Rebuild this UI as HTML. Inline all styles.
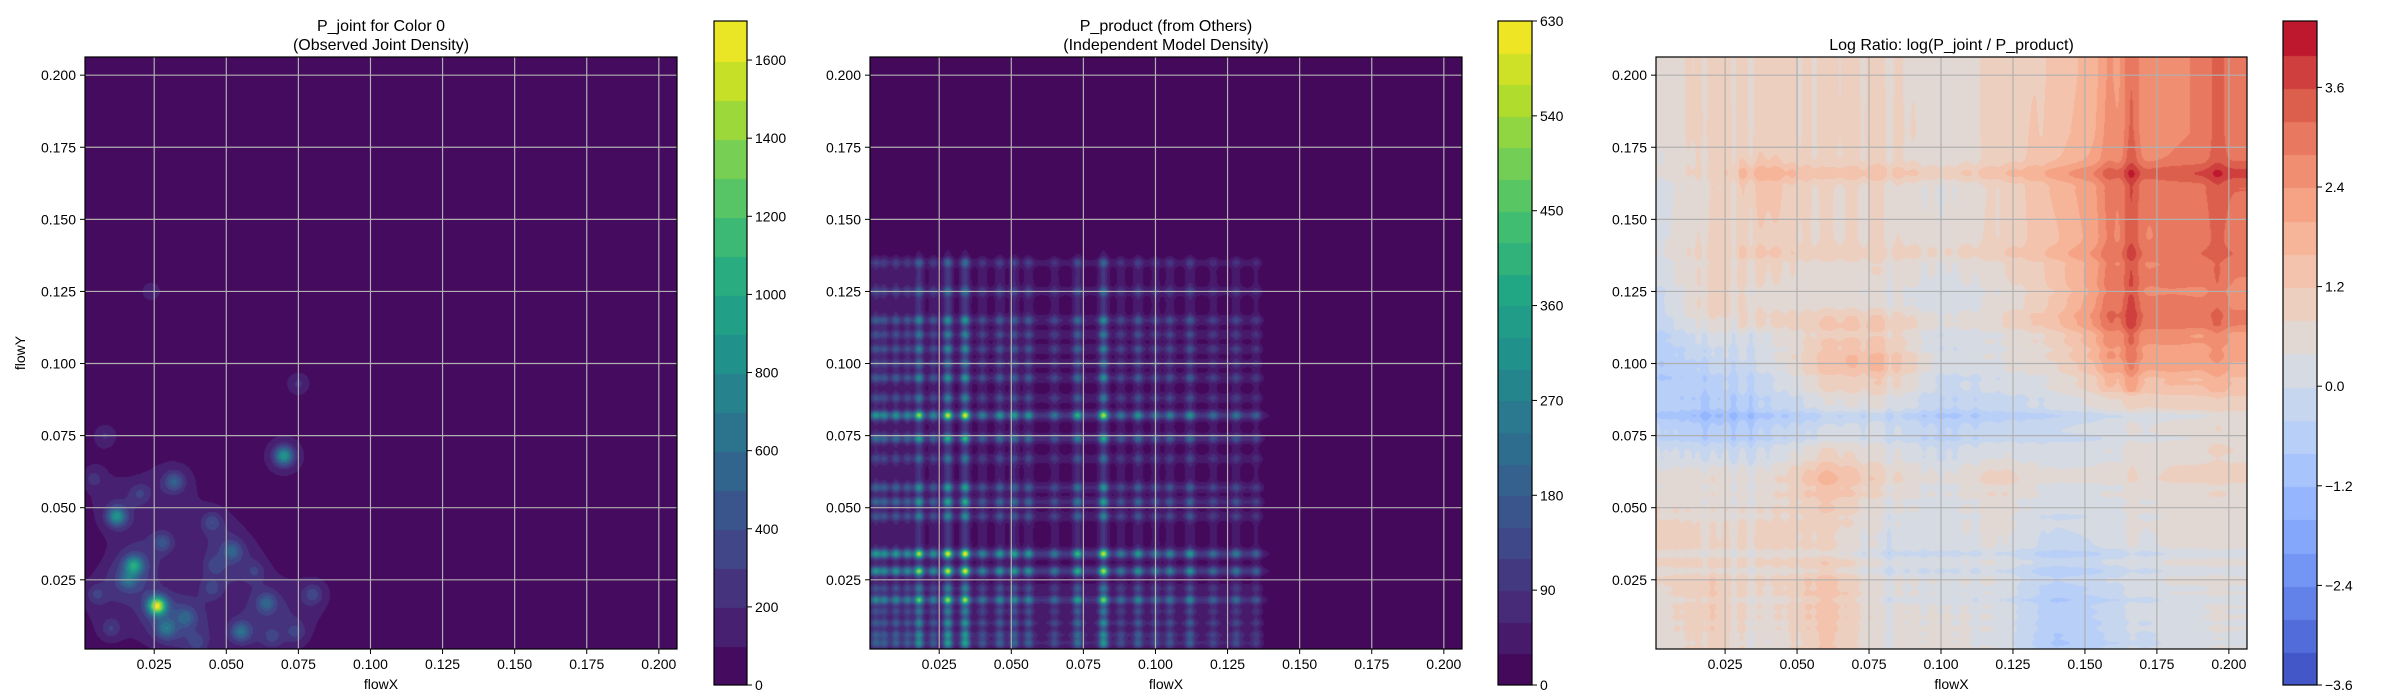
<!DOCTYPE html>
<html><head><meta charset="utf-8"><style>
html,body{margin:0;padding:0;background:#fff;width:2400px;height:700px;overflow:hidden}
#wrap{position:relative;width:2400px;height:700px}
canvas{position:absolute}
svg{position:absolute;left:0;top:0}
text{font-family:"Liberation Sans","DejaVu Sans",sans-serif;fill:#000}
</style></head><body>
<div id="wrap">
<canvas id="c1"></canvas>
<canvas id="c2"></canvas>
<canvas id="c3"></canvas>
<canvas id="b1"></canvas>
<canvas id="b2"></canvas>
<canvas id="b3"></canvas>
<svg id="ov" width="2400" height="700"></svg>
</div>
<script>
// ---- data ----
const xTicks=[0.025,0.05,0.075,0.1,0.125,0.15,0.175,0.2];
const yTicks=[0.025,0.05,0.075,0.1,0.125,0.15,0.175,0.2];
const tickLabels=["0.025","0.050","0.075","0.100","0.125","0.150","0.175","0.200"];
// joint density blobs
const blobX=[0.026,0.018,0.012,0.070,0.032,0.055,0.064,0.029,0.052,0.028,0.016,0.080,0.036,0.045,0.075,0.008,0.024,0.045,0.005,0.074,0.010,0.040,0.060,0.020,0.004,0.046,0.066];
const blobY=[0.016,0.030,0.047,0.068,0.059,0.007,0.017,0.008,0.035,0.038,0.025,0.020,0.012,0.045,0.093,0.075,0.125,0.022,0.020,0.007,0.008,0.003,0.028,0.055,0.060,0.030,0.005];
const blobV=[1700,900,850,900,420,520,420,460,380,320,420,280,320,280,170,160,130,220,220,220,220,220,180,200,180,180,180];
// product marginals (peak positions & weights)
const margXPos=[0.003,0.006,0.010,0.014,0.018,0.023,0.028,0.034,0.040,0.046,0.051,0.056,0.065,0.073,0.082,0.088,0.094,0.100,0.105,0.112,0.120,0.128,0.135,0.163];
const margXW=[0.45,0.4,0.45,0.4,0.85,0.4,0.95,1.0,0.35,0.45,0.5,0.45,0.3,0.6,0.9,0.3,0.45,0.3,0.35,0.45,0.25,0.3,0.25,0.1];
const margYPos=[0.003,0.006,0.010,0.014,0.018,0.022,0.028,0.034,0.047,0.052,0.057,0.067,0.074,0.082,0.088,0.095,0.100,0.105,0.110,0.115,0.125,0.135,0.162];
const margYW=[0.5,0.45,0.45,0.35,0.85,0.35,0.95,1.0,0.4,0.55,0.5,0.3,0.6,0.95,0.35,0.45,0.3,0.4,0.35,0.45,0.3,0.3,0.12];
// log ratio coarse grid: rows y=0.20 -> 0.00 step 0.02, cols x=0.00 -> 0.20 step 0.02
const ratioGrid=[
[0.7,1.1,1.1,0.9,1.0,0.6,1.0,1.3,2.1,2.7,3.0],
[0.6,1.2,1.1,0.9,1.1,0.6,1.0,1.4,2.2,2.7,3.0],
[0.3,0.9,1.5,0.8,0.9,0.4,0.9,1.7,2.6,3.0,3.2],
[0.4,1.1,1.1,0.8,0.9,0.6,0.9,1.5,2.5,2.9,2.9],
[-0.1,1.2,0.7,0.7,0.7,0.1,0.5,1.3,2.8,2.9,2.7],
[-0.6,-0.1,0.3,1.7,1.9,0.3,0.5,0.9,2.1,2.3,2.1],
[-0.3,-0.8,-0.5,-0.1,0.1,-0.5,-0.3,-0.1,0.1,0.5,0.7],
[0.7,0.9,0.7,1.9,1.1,0.5,1.1,0.5,0.5,0.9,0.9],
[1.3,0.9,1.1,0.9,0.3,0.3,0.5,-0.1,0.1,0.5,0.5],
[0.9,1.5,0.9,1.7,0.7,0.5,0.5,-0.5,-0.1,0.5,0.5],
[0.7,1.3,0.7,1.5,0.7,0.9,0.5,-0.7,-0.3,0.3,0.5]];
const ridgeX=[0.166,0.158,0.196]; const ridgeXW=[0.9,0.4,0.4];
const ridgeY=[0.166,0.115,0.138]; const ridgeYW=[0.6,0.5,0.3];
const cb1Ticks=[0,200,400,600,800,1000,1200,1400,1600];
const cb2Ticks=[0,90,180,270,360,450,540,630];
const cb3Ticks=[-3.6,-2.4,-1.2,0,1.2,2.4,3.6];
const cb3Labels=["\u22123.6","\u22122.4","\u22121.2","0.0","1.2","2.4","3.6"];

// ---- layout ----
const D0=0.001,D1=0.2063;
const panels=[
 {ax:{l:85,t:57,w:592,h:592},cb:{l:714,t:21,w:33,h:664},title:["P_joint for Color 0","(Observed Joint Density)"],ylabel:true},
 {ax:{l:870,t:57,w:592,h:592},cb:{l:1498,t:21,w:34,h:664},title:["P_product (from Others)","(Independent Model Density)"],ylabel:false},
 {ax:{l:1656,t:57,w:591,h:592},cb:{l:2283,t:21,w:34,h:664},title:["Log Ratio: log(P_joint / P_product)"],ylabel:false}];
const viridis=["#440154","#482475","#414487","#355f8d","#2a788e","#21918c","#22a884","#44bf70","#7ad151","#bddf26","#fde725"];
const coolwarm=["#3b4cc0","#5977e3","#7b9ff9","#9ebeff","#c0d4f5","#dddcdc","#f2cbb7","#f7ac8e","#ee8468","#d65244","#b40426"];
function hex(h){return [1,3,5].map(i=>parseInt(h.substr(i,2),16));}
function cmap(a,t){t=Math.max(0,Math.min(1,t));const f=t*(a.length-1),i=Math.min(a.length-2,Math.floor(f)),r=f-i;const A=hex(a[i]),B=hex(a[i+1]);return A.map((v,k)=>Math.round(v+(B[k]-v)*r));}
const g=(d,s)=>Math.exp(-d*d/(2*s*s));
function marg(x,pos,w){let s=0;for(let i=0;i<pos.length;i++)s+=w[i]*g(x-pos[i],0.0011);return s;}
function base(x){return x<0.13?0.2:0.2*g(x-0.13,0.006);}
function jointVal(x,y){let s=0;for(let i=0;i<blobX.length;i++){const d=Math.hypot(x-blobX[i],y-blobY[i]);s+=blobV[i]*0.8*g(d,0.0022)+Math.min(170,blobV[i]*0.5)*g(d,0.0065);}
 return s;}
function prodVal(x,y){const mx=base(x)+marg(x,margXPos,margXW)*(x<0.14?1:0.3),my=base(y)+marg(y,margYPos,margYW)*(y<0.14?1:0.3);return 640*mx*my/1.44;}
function ratioVal(x,y){
 const fx=Math.max(0,Math.min(10,x/0.02)),fy=Math.max(0,Math.min(10,(0.2-y)/0.02));
 const i=Math.min(9,Math.floor(fx)),j=Math.min(9,Math.floor(fy)),rx=fx-i,ry=fy-j;
 const G=ratioGrid;let v=G[j][i]*(1-rx)*(1-ry)+G[j][i+1]*rx*(1-ry)+G[j+1][i]*(1-rx)*ry+G[j+1][i+1]*rx*ry;
 v-=0.45*(marg(x,margXPos,margXW)+marg(y,margYPos,margYW));
 for(let k=0;k<ridgeX.length;k++)v+=ridgeXW[k]*g(x-ridgeX[k],0.0022)*(y>0.09?1:0.3);
 for(let k=0;k<ridgeY.length;k++)v+=ridgeYW[k]*g(y-ridgeY[k],0.0022)*(x>0.03?1:0.3);
 return v;}
const specs=[
 {fn:jointVal,vmin:0,step:100,n:17,cm:viridis},
 {fn:prodVal,vmin:0,step:30,n:21,cm:viridis},
 {fn:ratioVal,vmin:-3.6,step:0.4,n:20,cm:coolwarm}];
function bandColor(sp,i){return cmap(sp.cm,(i+0.5)/sp.n);}
function place(c,b){c.width=b.w;c.height=b.h;c.style.left=b.l+'px';c.style.top=b.t+'px';}
panels.forEach((p,pi)=>{
 const sp=specs[pi];const c=document.getElementById('c'+(pi+1));place(c,p.ax);
 const ctx=c.getContext('2d');const im=ctx.createImageData(p.ax.w,p.ax.h);
 const cols=[];for(let i=0;i<sp.n;i++)cols.push(bandColor(sp,i));
 for(let py=0;py<p.ax.h;py++){const y=D1-(py+0.5)/p.ax.h*(D1-D0);
  for(let px=0;px<p.ax.w;px++){const x=D0+(px+0.5)/p.ax.w*(D1-D0);
   let k=Math.floor((sp.fn(x,y)-sp.vmin)/sp.step);k=Math.max(0,Math.min(sp.n-1,k));
   const o=(py*p.ax.w+px)*4,C=cols[k];im.data[o]=C[0];im.data[o+1]=C[1];im.data[o+2]=C[2];im.data[o+3]=255;}}
 ctx.putImageData(im,0,0);
 const b=document.getElementById('b'+(pi+1));place(b,p.cb);const bx=b.getContext('2d');
 for(let i=0;i<sp.n;i++){const C=cols[i];bx.fillStyle=`rgb(${C[0]},${C[1]},${C[2]})`;
  const y0=p.cb.h-(i+1)*p.cb.h/sp.n;bx.fillRect(0,Math.floor(y0),p.cb.w,Math.ceil(p.cb.h/sp.n)+1);}
});
// ---- overlay ----
const ov=document.getElementById('ov');const NS='http://www.w3.org/2000/svg';
function el(tag,attrs,txt){const e=document.createElementNS(NS,tag);for(const k in attrs)e.setAttribute(k,attrs[k]);if(txt!==undefined)e.textContent=txt;ov.appendChild(e);return e;}
panels.forEach((p,pi)=>{
 const a=p.ax;const sx=v=>a.l+(v-D0)/(D1-D0)*a.w,sy=v=>a.t+a.h-(v-D0)/(D1-D0)*a.h;
 xTicks.forEach((v,i)=>{const X=sx(v);
  const gl=el('line',{x1:X,y1:a.t,x2:X,y2:a.t+a.h,stroke:'#b0b0b0','stroke-width':1.2});
  
  const tk=el('line',{x1:X,y1:a.t+a.h,x2:X,y2:a.t+a.h+5,stroke:'#000','stroke-width':1});
  
  const t=el('text',{x:X,y:a.t+a.h+20,'font-size':14,'text-anchor':'middle'},tickLabels[i]);
  });
 yTicks.forEach((v,i)=>{const Y=sy(v);
  const gl=el('line',{x1:a.l,y1:Y,x2:a.l+a.w,y2:Y,stroke:'#b0b0b0','stroke-width':1.2});
  
  const tk=el('line',{x1:a.l-5,y1:Y,x2:a.l,y2:Y,stroke:'#000','stroke-width':1});
  
  const t=el('text',{x:a.l-9,y:Y+5,'font-size':14,'text-anchor':'end'},tickLabels[i]);
  });
 const fr=el('rect',{x:a.l,y:a.t,width:a.w,height:a.h,fill:'none',stroke:'#000','stroke-width':1.2});
 
 const xl=el('text',{x:a.l+a.w/2,y:689,'font-size':14,'text-anchor':'middle'},'flowX');
 
 if(p.ylabel){const yl=el('text',{x:25,y:a.t+a.h/2,'font-size':14,'text-anchor':'middle',transform:`rotate(-90 25 ${a.t+a.h/2})`},'flowY');
  }
 p.title.forEach((s,i)=>{const ty=p.title.length===2?31+i*19:50;
  const t=el('text',{x:a.l+a.w/2,y:ty,'font-size':16,'text-anchor':'middle'},s);
  });
 // colorbar
 const sp=specs[pi],c=p.cb,vmax=sp.vmin+sp.step*sp.n;
 const ticks=[cb1Ticks,cb2Ticks,cb3Ticks][pi];
 ticks.forEach((v,i)=>{const Y=c.t+c.h-(v-sp.vmin)/(vmax-sp.vmin)*c.h;
  const tk=el('line',{x1:c.l+c.w,y1:Y,x2:c.l+c.w+5,y2:Y,stroke:'#000','stroke-width':1});
  
  const lab=pi===2?cb3Labels[i]:String(v);
  const t=el('text',{x:c.l+c.w+8,y:Y+5,'font-size':14},lab);
  });
 const cf=el('rect',{x:c.l,y:c.t,width:c.w,height:c.h,fill:'none',stroke:'#000','stroke-width':1.2});
 
});
</script>
</body></html>
